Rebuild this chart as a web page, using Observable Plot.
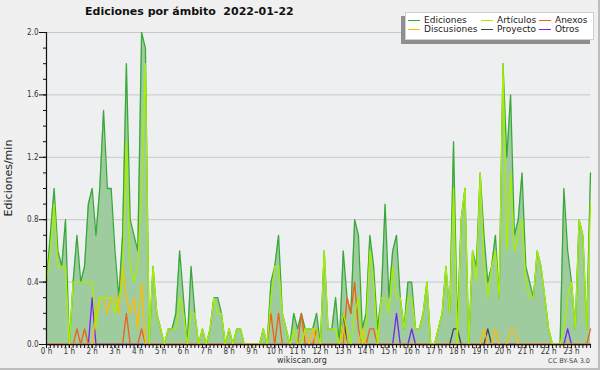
<!DOCTYPE html>
<html>
<head>
<meta charset="utf-8">
<script src="https://cdn.jsdelivr.net/npm/d3@7"></script>
<script src="https://cdn.jsdelivr.net/npm/@observablehq/plot@0.6"></script>
<style>
  body { margin: 0; background: #ffffff; }
  #wrap { position: relative; width: 600px; height: 370px; background: #f0f0f0; overflow: hidden;
          font-family: "DejaVu Sans", sans-serif; box-shadow: inset -2px -2px 0 #bdbdbd; }
  #wrap svg { position: absolute; left: 0; top: 0; }
  .abs { position: absolute; white-space: nowrap; }
  #title { left: 85px; top: 5px; font-size: 11px; font-weight: bold; color: #111; }
  #ylab { left: -51px; top: 172px; width: 120px; text-align: center; font-size: 11px; line-height: 12px;
          color: #222; transform: rotate(-90deg); }
  #legend { left: 405px; top: 12px; width: 187px; height: 26px; background: #ffffff;
            border: 1px solid #cfcfcf; box-shadow: -4px 4px 0 #8e8e8e; }
  .li { position: absolute; font-size: 9px; line-height: 10px; color: #222; }
  .sw { position: absolute; width: 12px; height: 0; border-top: 1.3px solid; }
  #foot { left: 277px; top: 356px; font-size: 8px; color: #333; }
  #cc { right: 10px; top: 357px; font-size: 6.5px; color: #444; }
</style>
</head>
<body>
<div id="wrap">
  <div id="title" class="abs">Ediciones por ámbito&nbsp;&nbsp;2022-01-22</div>
  <div id="ylab" class="abs">Ediciones/min</div>
  <div id="foot" class="abs">wikiscan.org</div>
  <div id="cc" class="abs">CC BY-SA 3.0</div>
</div>
<script>
// ---- data: one value per 10 minutes, 144 slots (edits per minute) ----
const ediciones = [
  0.4,0.7,1.0,0.6,0.5,0.8, 0.0,0.4,0.7,0.4,0.5,0.9, 1.0,0.7,1.0,1.5,1.0,1.0,
  0.6,0.3,0.7,1.8,0.8,0.7, 0.6,2.0,1.9,0.0,0.5,0.2, 0.1,0.0,0.1,0.1,0.2,0.6,
  0.3,0.0,0.5,0.2,0.0,0.1, 0.0,0.1,0.3,0.3,0.2,0.0, 0.1,0.0,0.1,0.1,0.0,0.0,
  0.0,0.0,0.0,0.1,0.0,0.4, 0.5,0.7,0.2,0.1,0.0,0.2, 0.1,0.2,0.1,0.1,0.1,0.2,
  0.0,0.6,0.1,0.1,0.3,0.0, 0.6,0.3,0.2,0.8,0.7,0.1, 0.2,0.7,0.5,0.1,0.3,0.9,
  0.3,0.6,0.7,0.3,0.1,0.4, 0.4,0.1,0.1,0.2,0.4,0.0, 0.0,0.1,0.2,0.5,0.2,1.3,
  0.1,0.8,1.0,0.0,0.6,0.5, 1.1,0.7,0.4,0.5,0.7,0.3, 1.8,1.2,1.6,0.7,0.8,1.1,
  0.5,0.4,0.3,0.6,0.5,0.3, 0.1,0.0,0.0,0.0,1.0,0.6, 0.4,0.1,0.8,0.7,0.1,1.1
];
const articulos = [
  0.4,0.6,0.9,0.5,0.5,0.5, 0.0,0.4,0.4,0.4,0.4,0.4, 0.4,0.1,0.3,0.3,0.3,0.3,
  0.2,0.3,0.4,1.3,0.5,0.4, 0.5,1.0,1.8,0.0,0.5,0.2, 0.1,0.0,0.1,0.1,0.1,0.3,
  0.2,0.0,0.2,0.2,0.0,0.1, 0.0,0.1,0.3,0.2,0.2,0.0, 0.1,0.0,0.1,0.1,0.0,0.0,
  0.0,0.0,0.0,0.1,0.0,0.3, 0.5,0.5,0.2,0.1,0.0,0.1, 0.0,0.0,0.1,0.1,0.1,0.1,
  0.0,0.6,0.1,0.1,0.1,0.0, 0.2,0.1,0.0,0.2,0.3,0.0, 0.1,0.6,0.4,0.0,0.3,0.3,
  0.2,0.5,0.3,0.3,0.1,0.3, 0.3,0.1,0.1,0.2,0.4,0.0, 0.0,0.1,0.2,0.5,0.2,1.0,
  0.0,0.8,1.0,0.0,0.6,0.4, 1.1,0.5,0.3,0.5,0.6,0.3, 1.8,0.6,1.1,0.6,0.7,0.8,
  0.4,0.3,0.3,0.6,0.5,0.3, 0.1,0.0,0.0,0.0,0.1,0.3, 0.4,0.1,0.8,0.7,0.1,0.9
];
// sparse series: slot index -> value (all other slots are 0)
const anexosSlots      = [8,10,21,25,59,61,67,71,79,80,81,82,85,86,143];
const anexosValues     = [0.1,0.1,0.2,0.1,0.2,0.2,0.2,0.1,0.3,0.2,0.4,0.1,0.1,0.1,0.1];
const discusionesSlots = [13,14,15,16,17,18,19,20,21,22,23,24,25,68,70,78,83,115,118,122,123];
const discusionesValues= [0.2,0.3,0.3,0.2,0.3,0.3,0.2,0.5,0.3,0.2,0.3,0.1,0.4,0.1,0.1,0.1,0.1,0.1,0.1,0.1,0.1];
const proyectoSlots    = [78,107,108,116];
const proyectoValues   = [0.2,0.1,0.1,0.1];
const otrosSlots       = [12,92,96,137];
const otrosValues      = [0.3,0.2,0.1,0.1];

const yMajor = [0, 0.4, 0.8, 1.2, 1.6, 2.0];
const yGrid  = [0.4, 0.8, 1.2, 1.6, 2.0];
const yMinor = d3.range(0, 21).map(k => k / 10);
const hourLabels = d3.range(0, 24);

const seriesNames  = ["Ediciones", "Artículos", "Anexos", "Discusiones", "Proyecto", "Otros"];
const seriesColors = ["#38a838", "#a8ee00", "#f06018", "#ffbb00", "#444444", "#7a22ee"];

// ---- build table ----
const N = ediciones.length;
const hour = i => i / 6;
const dense = (slots, vals) => { const a = new Array(N).fill(0); slots.forEach((s, k) => a[s] = vals[k]); return a; };
const seriesData = {
  "Ediciones": ediciones,
  "Artículos": articulos,
  "Anexos": dense(anexosSlots, anexosValues),
  "Discusiones": dense(discusionesSlots, discusionesValues),
  "Proyecto": dense(proyectoSlots, proyectoValues),
  "Otros": dense(otrosSlots, otrosValues)
};
const long = [];
for (const name of seriesNames) seriesData[name].forEach((v, i) => long.push({ h: hour(i), v, s: name }));
const total = ediciones.map((v, i) => ({ h: hour(i), v }));
const xMinor = d3.range(0, N).map(hour);

const lineOrder = ["Ediciones", "Proyecto", "Otros", "Anexos", "Discusiones", "Artículos"];
const lineMarks = lineOrder.map(name => Plot.lineY(long.filter(d => d.s === name), {
  x: "h", y: "v", stroke: seriesColors[seriesNames.indexOf(name)], strokeWidth: 1.3, curve: "linear"
}));

const chart = Plot.plot({
  width: 600, height: 370,
  marginLeft: 46, marginRight: 10, marginTop: 32, marginBottom: 26,
  style: { background: "transparent", fontFamily: "'DejaVu Sans Condensed','DejaVu Sans',sans-serif", fontSize: "8px", color: "#222" },
  x: { domain: [0, hour(N - 1)], label: null },
  y: { domain: [0, 2], label: null },
  marks: [
    Plot.frame({ fill: "#edeff1", stroke: null }),
    Plot.ruleY(yGrid, { stroke: "#c8c8c8", strokeWidth: 1 }),
    Plot.areaY(total, { x: "h", y: "v", fill: "#9fcc9f", curve: "linear" }),
    ...lineMarks,
    Plot.axisY({ ticks: yMinor, tickSize: 3, tickFormat: () => "", label: null, stroke: "#111" }),
    Plot.axisY({ ticks: yMajor, tickSize: 7, tickPadding: 1, tickFormat: d => d.toFixed(1), label: null, stroke: "#111", fill: "#333" }),
    Plot.axisX({ ticks: xMinor, tickSize: 4, tickFormat: () => "", label: null, stroke: "#111" }),
    Plot.axisX({ ticks: hourLabels, tickSize: 4, tickPadding: 0, tickFormat: d => d + " h", label: null, stroke: "#111", fill: "#333" }),
    Plot.ruleX([0], { stroke: "#111", strokeWidth: 1.2 }),
    Plot.ruleY([0], { stroke: "#111", strokeWidth: 1.2 })
  ]
});
const wrap = document.getElementById("wrap");
wrap.insertBefore(chart, wrap.firstChild);

// ---- legend ----
const legend = document.createElement("div");
legend.id = "legend"; legend.className = "abs";
const cols = [[0, 3], [1, 4], [2, 5]];
const colX = [2, 75, 133];
cols.forEach((pair, c) => pair.forEach((idx, r) => {
  const sw = document.createElement("div");
  sw.className = "sw";
  sw.style.left = colX[c] + "px"; sw.style.top = (r === 0 ? 7 : 16) + "px";
  sw.style.borderTopColor = seriesColors[idx];
  const t = document.createElement("div");
  t.className = "li";
  t.style.left = (colX[c] + 16) + "px"; t.style.top = (r === 0 ? 2 : 11) + "px";
  t.textContent = seriesNames[idx];
  legend.appendChild(sw); legend.appendChild(t);
}));
wrap.appendChild(legend);
</script>
</body>
</html>
